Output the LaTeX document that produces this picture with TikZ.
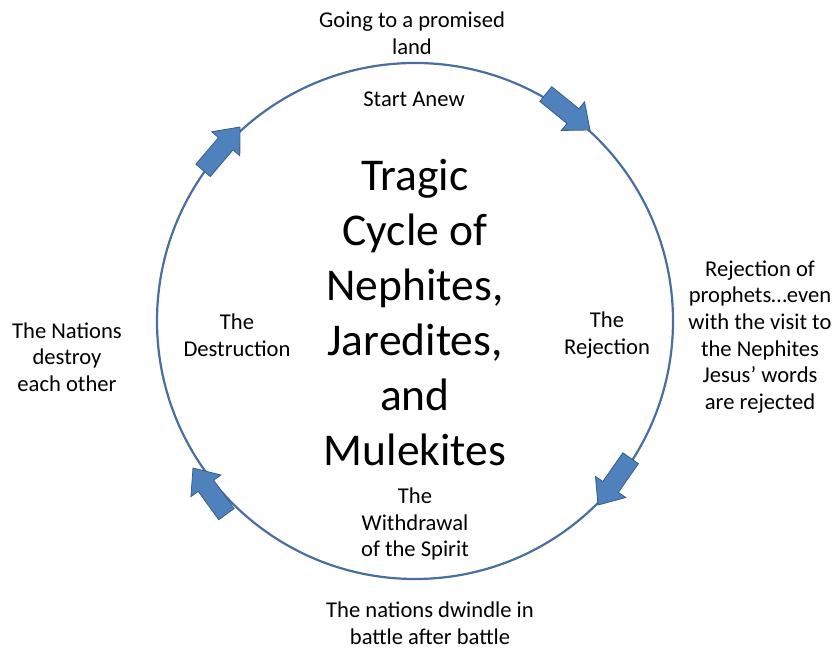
\documentclass[tikz,border=0pt]{standalone}
\usepackage{fontspec}
\setmainfont{Carlito}
\definecolor{ringc}{RGB}{74,110,160}
\definecolor{arrfill}{RGB}{79,129,189}
\definecolor{arrline}{RGB}{56,93,138}
\tikzset{
  lbl/.style={align=center, inner sep=0pt, font=\fontsize{22.6}{26.7}\selectfont},
  ttl/.style={align=center, inner sep=0pt, font=\fontsize{45.5}{55}\selectfont},
  ring/.style={circle, draw=ringc, line width=2.2pt, minimum size=516pt, inner sep=0pt},
  blk/.style={fill=arrfill, draw=arrline, line width=0.8pt, line join=miter}
}
\newcommand{\blockarr}[2]{%
  \begin{scope}[shift={#1}, rotate=#2]
    \path[blk] (0,0) -- (-22,18.5) -- (-22,9.5) -- (-57,9.5) -- (-57,-9.5) -- (-22,-9.5) -- (-22,-18.5) -- cycle;
  \end{scope}}
\begin{document}
\begin{tikzpicture}[x=1pt,y=1pt]
\useasboundingbox (0,0) rectangle (840,650);
\node[ring] (c) at (415,329) {};
\coordinate (tl) at (240,523);
\coordinate (tr) at (590,520);
\coordinate (br) at (598,145);
\coordinate (bl) at (193,182);
\blockarr{(tl)}{49.6}
\blockarr{(tr)}{-39.1}
\blockarr{(br)}{235.1}
\blockarr{(bl)}{125.9}
\node[ttl] (title) at (415,337) {Tragic\\Cycle of\\Nephites,\\Jaredites,\\and\\Mulekites};
\node[lbl] (going) at (412,616.5) {Going to a promised\\land};
\node[lbl] (start) at (414,551) {Start Anew};
\node[lbl] (destr) at (237,315) {The\\Destruction};
\node[lbl] (rej) at (607,315) {The\\Rejection};
\node[lbl] (nat) at (67,293) {The Nations\\destroy\\each other};
\node[lbl] (rejp) at (760,313) {Rejection of\\prophets…even\\with the visit to\\the Nephites\\Jesus’ words\\are rejected};
\node[lbl] (with) at (415,126) {The\\Withdrawal\\of the Spirit};
\node[lbl] (dwin) at (430,27) {The nations dwindle in\\battle after battle};
\end{tikzpicture}
\end{document}
